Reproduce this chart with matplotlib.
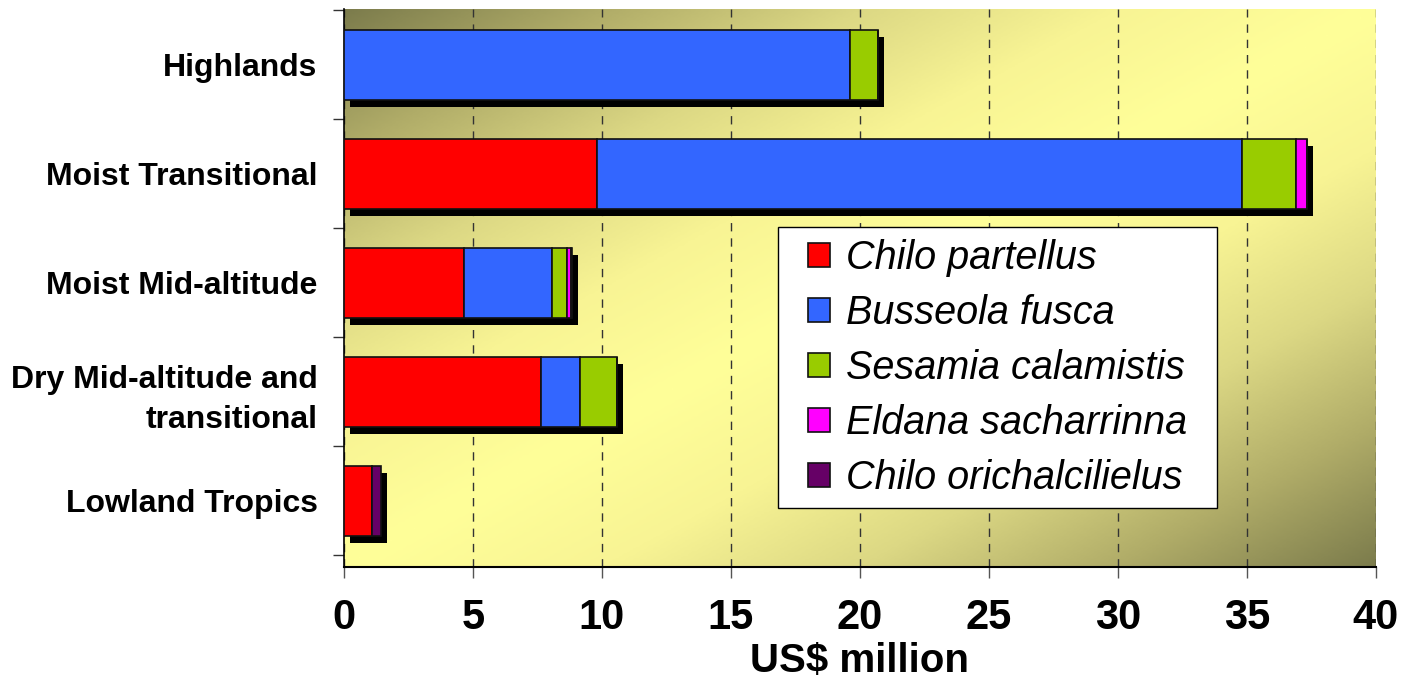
import numpy as np
import matplotlib
matplotlib.use("Agg")
import matplotlib.pyplot as plt
from matplotlib.colors import LinearSegmentedColormap
from matplotlib.patches import Rectangle

regions = ["Lowland Tropics", "Dry Mid-altitude and\ntransitional", "Moist Mid-altitude",
           "Moist Transitional", "Highlands"]
species = ["Chilo partellus", "Busseola fusca", "Sesamia calamistis",
           "Eldana sacharrinna", "Chilo orichalcilielus"]
colors = ["#ff0000", "#3366ff", "#99cc00", "#ff00ff", "#660066"]

# US$ million, by region (same order as regions)
chilo_partellus = [1.1, 7.65, 4.65, 9.8, 0.0]
busseola_fusca = [0.0, 1.5, 3.4, 25.0, 19.6]
sesamia_calamistis = [0.0, 1.45, 0.6, 2.1, 1.1]
eldana_sacharrinna = [0.0, 0.0, 0.15, 0.45, 0.0]
chilo_orichalcilielus = [0.35, 0.0, 0.05, 0.0, 0.0]
series = [chilo_partellus, busseola_fusca, sesamia_calamistis,
          eldana_sacharrinna, chilo_orichalcilielus]

plt.rcParams["font.family"] = ["Liberation Sans", "DejaVu Sans"]

fig = plt.figure(figsize=(14.01, 6.86), dpi=100)
ax = fig.add_axes([0.2455, 0.1735, 0.7365, 0.8134])

ylo, yhi = -0.605, 4.51

# diagonal gradient background
nx, ny = 300, 200
gx, gy = np.meshgrid(np.linspace(0, 1, nx), np.linspace(1, 0, ny))
d = np.abs(gx - gy)
bg = LinearSegmentedColormap.from_list("bg", ["#ffff99", "#f8f494", "#dcd884", "#b0ac68", "#7c7c4c"])
ax.imshow(d, cmap=bg, extent=[0, 40, ylo, yhi], aspect="auto",
          origin="upper", zorder=0, vmin=0, vmax=1)

y = np.arange(len(regions))
h = 0.64
totals = np.sum(series, axis=0)

# drop shadow
ax.barh(y - 0.064, totals, height=h, left=0.23, color="black", zorder=2)

left = np.zeros(len(regions))
for name, vals, c in zip(species, series, colors):
    vals = np.array(vals)
    ax.barh(y, vals, height=h, left=left, color=c, edgecolor="#111111",
            linewidth=1.2, label=name, zorder=3)
    left += vals

ax.set_xlim(0, 40)
ax.set_ylim(ylo, yhi)
ax.set_xticks(np.arange(0, 41, 5))
ax.xaxis.grid(True, linestyle=(0, (6, 5)), color="#333333", linewidth=1)
for gl in ax.get_xgridlines():
    gl.set_zorder(1)
ax.tick_params(axis="x", direction="out", length=8, width=1, color="#555555",
               labelsize=30, pad=14)
for lab in ax.get_xticklabels():
    lab.set_fontweight("bold")

ax.set_yticks(y)
ax.set_yticklabels(regions, fontsize=23, fontweight="bold", linespacing=1.4)
ax.set_yticks(np.arange(-0.495, 4.6, 1.0), minor=True)
ax.tick_params(axis="y", which="major", length=0, pad=19)
ax.tick_params(axis="y", which="minor", length=8, width=1, color="#333333")

ax.set_xlabel("US$ million", fontsize=29, fontweight="bold", labelpad=3)

for s in ["top", "right"]:
    ax.spines[s].set_visible(False)
ax.spines["left"].set_linewidth(1.2)
ax.spines["bottom"].set_linewidth(1.5)

# legend box
ax.add_patch(Rectangle((0.4205, 0.1057), 0.4255, 0.5035, transform=ax.transAxes,
                       facecolor="white", edgecolor="black", linewidth=1, zorder=4))
leg = ax.legend(loc="upper left", bbox_to_anchor=(0.4496, 0.5876),
                prop={"style": "italic", "size": 28.5}, frameon=False,
                handlelength=0.56, handleheight=0.56,
                handletextpad=0.4, labelspacing=0.43, borderpad=0, borderaxespad=0)
leg.set_zorder(5)

fig.savefig("out.png", dpi=100)
